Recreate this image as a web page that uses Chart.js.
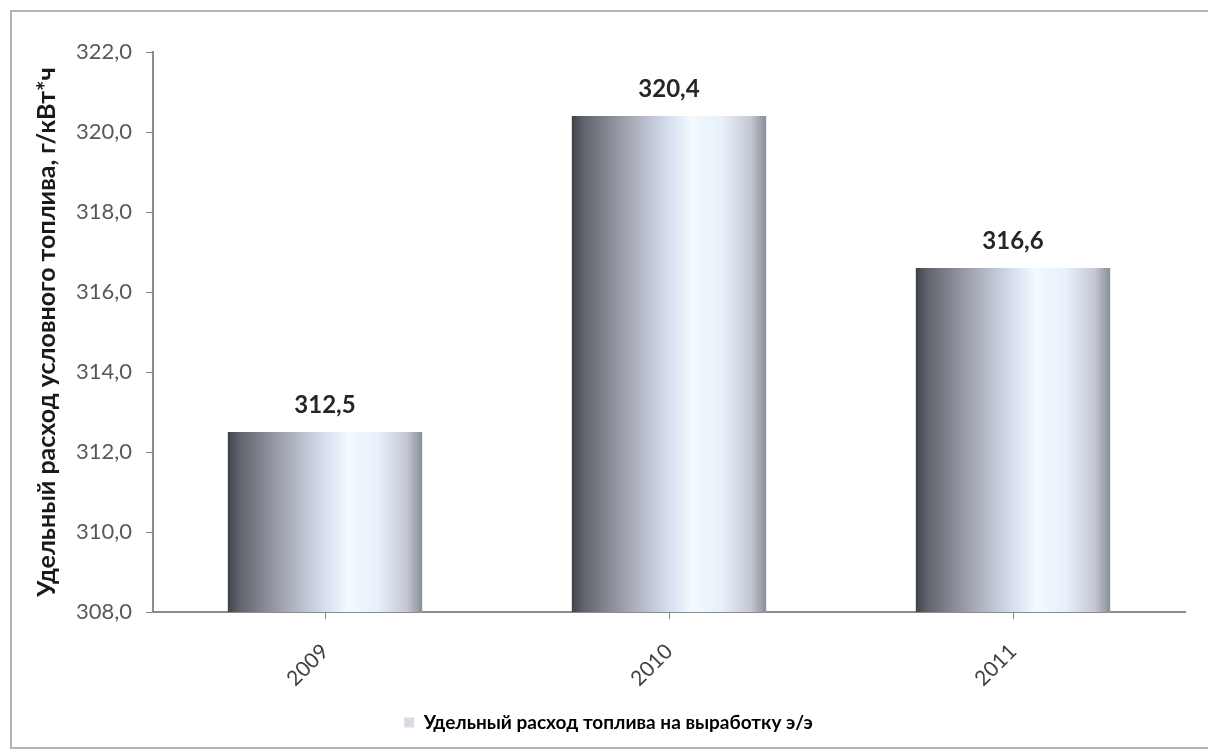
<!DOCTYPE html>
<html><head><meta charset="utf-8">
<script src="https://cdn.jsdelivr.net/npm/chart.js@4.4.1/dist/chart.umd.min.js"></script>
<style>
html,body{margin:0;padding:0;background:#fff;}
#wrap{position:absolute;left:0;top:0;width:1208px;height:756px;}
#frame{position:absolute;left:10px;top:10px;width:1210px;height:739px;border:2px solid #b4b4b4;border-right:none;box-sizing:border-box;}
canvas{position:absolute;left:0;top:0;}
</style></head>
<body>
<div id="wrap"><div id="frame"></div><canvas id="c" width="1208" height="756"></canvas></div>
<script>
const categories = ['2009', '2010', '2011'];
const values = [312.5, 320.4, 316.6];
const valueLabels = ['312,5', '320,4', '316,6'];
const seriesName = 'Удельный расход топлива на выработку э/э';
const yTitle = 'Удельный расход условного топлива, г/кВт*ч';
const yMin = 308, yMax = 322, yStep = 2;

const FONT = 'Lato';

function makeGrad(ctx, x0, x1) {
  const g = ctx.createLinearGradient(x0, 0, x1, 0);
  g.addColorStop(0, '#3e4248');
  g.addColorStop(0.05, '#5c6068');
  g.addColorStop(0.3, '#a6aab6');
  g.addColorStop(0.5, '#d6def0');
  g.addColorStop(0.62, '#f2faff');
  g.addColorStop(0.78, '#e6eef8');
  g.addColorStop(0.92, '#c4c8d4');
  g.addColorStop(1, '#8a8e98');
  return g;
}

const gradPlugin = {
  id: 'grad',
  beforeDatasetDraw(chart, args) {
    const meta = args.meta;
    meta.data.forEach(el => {
      const x0 = el.x - el.width / 2, x1 = el.x + el.width / 2;
      el.options = Object.assign({}, el.options, { backgroundColor: makeGrad(chart.ctx, x0, x1) });
    });
  }
};

const labelPlugin = {
  id: 'vlabels',
  afterDatasetsDraw(chart) {
    const ctx = chart.ctx;
    const meta = chart.getDatasetMeta(0);
    ctx.save();
    ctx.font = 'bold 24px ' + FONT;
    ctx.fillStyle = '#262626';
    ctx.textAlign = 'center';
    ctx.textBaseline = 'middle';
    meta.data.forEach((el, i) => {
      ctx.fillText(valueLabels[i], el.x, el.y - 27);
    });
    ctx.restore();
  }
};

new Chart(document.getElementById('c'), {
  type: 'bar',
  data: {
    labels: categories,
    datasets: [{
      label: seriesName,
      data: values,
      backgroundColor: '#cfd3dc',
      borderWidth: 0,
      categoryPercentage: 1,
      barPercentage: 0.565
    }]
  },
  options: {
    responsive: false,
    animation: false,
    layout: { padding: { left: 32, right: 23, top: 52, bottom: 14 } },
    plugins: {
      tooltip: { enabled: false },
      legend: {
        position: 'bottom',
        labels: {
          font: { family: FONT, size: 19, weight: 'bold' },
          color: '#262626',
          boxWidth: 10, boxHeight: 10,
          padding: 8,
          generateLabels(chart) {
            return [{ text: seriesName, fillStyle: '#d8dce2', strokeStyle: '#d8dce2', lineWidth: 0, datasetIndex: 0 }];
          }
        }
      }
    },
    scales: {
      x: {
        offset: true,
        grid: { drawOnChartArea: false, offset: false, tickLength: 7, color: '#8c8c8c' },
        border: { color: '#8c8c8c', width: 2 },
        ticks: { font: { family: FONT, size: 21 }, color: '#404040', minRotation: 45, maxRotation: 45, padding: 20 },
        afterFit(scale) { scale.height = 93; }
      },
      y: {
        min: yMin, max: yMax,
        grid: { drawOnChartArea: false, tickLength: 7, color: '#8c8c8c' },
        border: { color: '#8c8c8c', width: 2 },
        ticks: {
          stepSize: yStep,
          font: { family: FONT, size: 22 },
          color: '#595959',
          padding: 14,
          callback: v => v.toFixed(1).replace('.', ',')
        },
        title: {
          display: true, text: yTitle,
          font: { family: FONT, size: 25, weight: 'bold' },
          color: '#1a1a1a',
          padding: { top: 0, bottom: 2 }
        },
        afterFit(scale) { scale.width = 121; }
      }
    }
  },
  plugins: [gradPlugin, labelPlugin]
});
</script>
</body></html>
